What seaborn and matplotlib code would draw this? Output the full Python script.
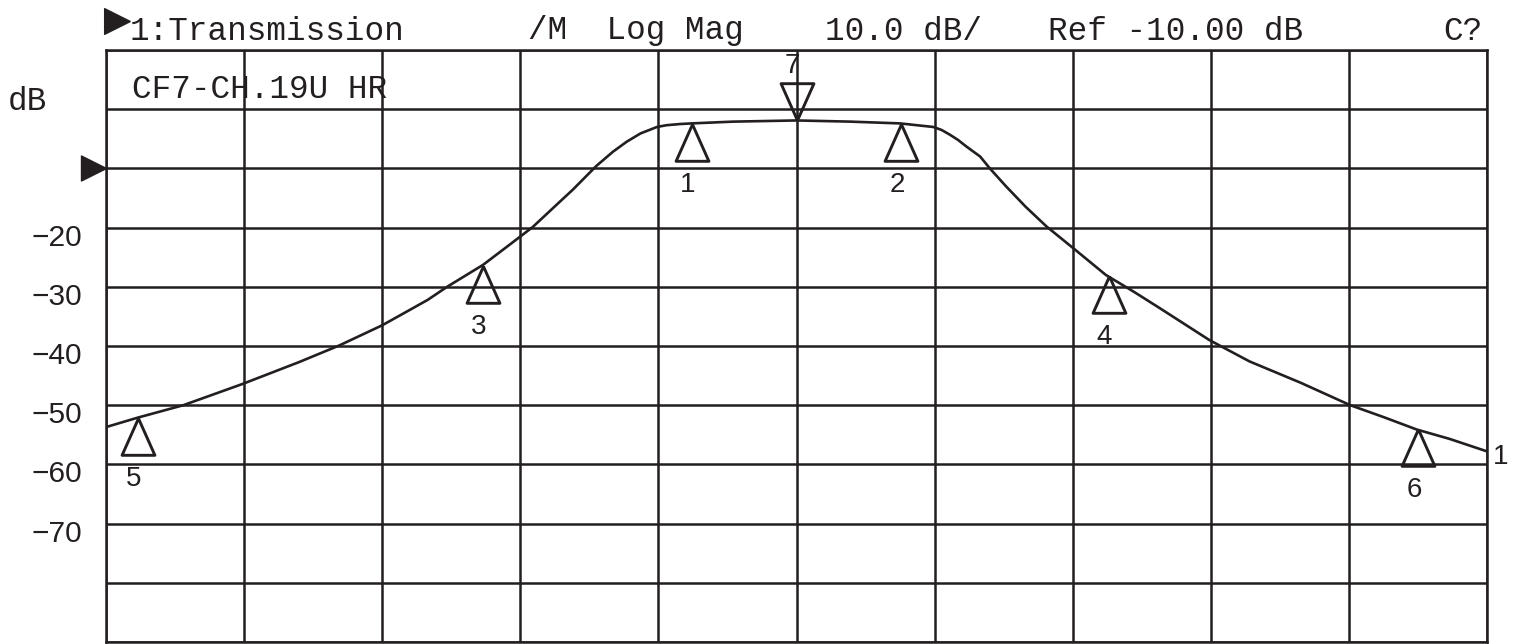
import numpy as np
import pandas as pd
import matplotlib
matplotlib.use("Agg")
import matplotlib.pyplot as plt
import seaborn as sns
from matplotlib.transforms import ScaledTranslation

# ---------------- data ----------------
# x in screen divisions (0..10), y in dB
trace_x = [0.0, 0.23, 0.56, 0.99, 1.40, 1.69, 2.0, 2.20, 2.33, 2.47, 2.73, 2.95,
           3.09, 3.26, 3.38, 3.55, 3.67, 3.77, 3.87, 3.99, 4.06, 4.16, 4.24, 4.54,
           5.0, 5.39, 5.75, 5.99, 6.05, 6.11, 6.17, 6.23, 6.33, 6.40, 6.52, 6.66, 6.81,
           7.0, 7.24, 7.44, 7.63, 7.99, 8.28, 8.65, 9.01, 9.25, 9.49, 9.73, 10.0]
trace_db = [-53.7, -52.1, -50.0, -46.4, -42.7, -39.9, -36.5, -33.9, -32.2, -30.0,
            -26.3, -22.4, -19.9, -16.2, -13.6, -9.6, -7.2, -5.5, -4.1, -3.0, -2.7,
            -2.5, -2.4, -2.1, -1.9, -2.1, -2.4, -3.0, -3.5, -4.3, -5.2, -6.3, -8.0,
            -10.0, -13.1, -16.5, -19.8, -23.4, -28.0, -30.8, -33.6, -39.0, -42.6,
            -46.2, -50.0, -52.0, -54.1, -55.7, -57.8]

marker_ids = ["1", "2", "3", "4", "5", "6", "7"]
marker_x = [4.24, 5.76, 2.73, 7.26, 0.23, 9.5, 5.0]
marker_db = [-2.5, -2.5, -26.5, -28.2, -52.2, -54.0, -1.9]
marker_down = [False, False, False, False, False, False, True]

ytick_vals = [-20, -30, -40, -50, -60, -70]
ytick_labels = ["\u221220", "\u221230", "\u221240", "\u221250", "\u221260", "\u221270"]

ref_level = -10.0
header_texts = ["1:Transmission", "/M  Log Mag", "10.0 dB/", "Ref -10.00 dB", "C?"]
header_px = [130, 528, 825, 1048, 1443]
note_text = "CF7-CH.19U HR"
unit_text = "dB"
trace_label = "1"

# ---------------- style ----------------
W, H = 1520, 644
INK = "#231f20"
MONO = ["Liberation Mono", "DejaVu Sans Mono", "DejaVu Sans"]
SANS = ["Liberation Sans", "DejaVu Sans"]
sns.set_theme(style="white")
plt.rcParams["font.family"] = MONO

fig = plt.figure(figsize=(W / 100, H / 100), dpi=100)
fig.patch.set_facecolor("white")
ax = fig.add_axes([106 / W, 1 - 642 / H, (1487 - 106) / W, (642 - 50) / H])
ax.set_facecolor("white")

df = pd.DataFrame({"div": trace_x, "dB": trace_db})
sns.lineplot(data=df, x="div", y="dB", ax=ax, color=INK, lw=1.9,
             estimator=None, sort=False, zorder=3)

# markers
up_tri = [(0, 0), (-0.446, -1), (0.446, -1), (0, 0)]
down_tri = [(0, 0), (-0.446, 1), (0.446, 1), (0, 0)]
for mid, mx, my, dn in zip(marker_ids, marker_x, marker_db, marker_down):
    ax.plot([mx], [my], linestyle="none", marker=down_tri if dn else up_tri,
            ms=53, mfc="none", mec=INK, mew=2.1, zorder=4, clip_on=False)
    ax.annotate(mid, (mx, my), xytext=(-4, 54 if dn else -61),
                textcoords="offset pixels", ha="center", va="center",
                fontsize=20, color=INK, family=SANS, annotation_clip=False)

# reference level arrow on left
ax.plot([0], [ref_level], linestyle="none",
        marker=[(0, 0), (-1, 0.5), (-1, -0.5), (0, 0)], ms=36,
        color=INK, mec=INK, clip_on=False, zorder=5)

# trace label at right end
ax.annotate(trace_label, (trace_x[-1], trace_db[-1]), xytext=(6, -6),
            textcoords="offset pixels", ha="left", va="center", fontsize=20,
            color=INK, family=SANS, annotation_clip=False)

# axes / grid
ax.set_xlim(0, 10)
ax.set_ylim(-90, 10)
ax.set_xticks(np.arange(0, 11, 1))
ax.set_yticks(np.arange(-90, 11, 10))
ax.set_xticklabels([""] * 11)
ylabels = []
for v in np.arange(-90, 11, 10):
    ylabels.append(ytick_labels[ytick_vals.index(v)] if v in ytick_vals else "")
ax.set_yticklabels(ylabels, fontsize=21.5, color=INK, family=SANS)
ax.tick_params(axis="both", length=0, pad=17)
off = ScaledTranslation(0, -7 / 100, fig.dpi_scale_trans)
for lab in ax.get_yticklabels():
    lab.set_transform(lab.get_transform() + off)
ax.grid(True, color=INK, lw=1.8, zorder=1)
ax.set_axisbelow(True)
for s in ax.spines.values():
    s.set_visible(True)
    s.set_color(INK)
    s.set_linewidth(1.8)
ax.set_xlabel("")
ax.set_ylabel("")

# header
for t, px in zip(header_texts, header_px):
    fig.text(px / W, 1 - 39.5 / H, t, fontsize=23.5, color=INK, ha="left",
             va="baseline", family=MONO)
ax.plot([117 / W], [1 - 20.5 / H], linestyle="none",
        marker=[(1, 0), (-1, 1), (-1, -1), (1, 0)], ms=18.5, color=INK,
        transform=fig.transFigure, clip_on=False)
fig.text(132 / W, 1 - 98 / H, note_text, fontsize=23.5, color=INK, ha="left",
         va="baseline", family=MONO)
fig.text(8 / W, 1 - 110 / H, unit_text, fontsize=23.5, color=INK, ha="left",
         va="baseline", family=MONO)

ax.set_xlim(0, 10)
ax.set_ylim(-90, 10)
fig.savefig("out.png", dpi=100, facecolor="white")
